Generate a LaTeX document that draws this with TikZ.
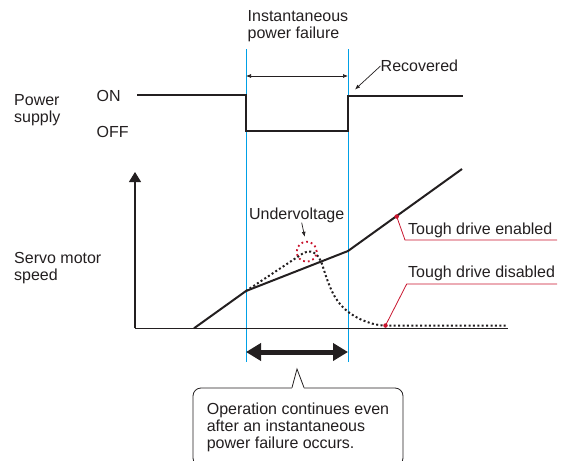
\documentclass[tikz,border=0pt]{standalone}
\usepackage{fontspec}
\setmainfont{Liberation Sans}
\usepackage{xcolor}
\usetikzlibrary{arrows.meta, positioning, calc}
\definecolor{ink}{RGB}{35,31,32}
\definecolor{cyanline}{RGB}{0,160,230}
\definecolor{leadred}{RGB}{200,20,45}
\tikzset{
  lbl/.style={
    font=\fontsize{16}{17}\selectfont, text=ink,
    inner sep=0pt, align=left
  },
  sigline/.style={line width=1.8pt, draw=ink},
  speedline/.style={line width=2pt, draw=ink},
  dropline/.style={line width=2pt, draw=ink, dash pattern=on 2pt off 2.4pt},
  axisline/.style={line width=1.2pt, draw=ink},
  markline/.style={line width=1pt, draw=cyanline},
  thinarrow/.style={-{Latex[length=5pt,width=4pt]}, line width=0.7pt, draw=ink},
  leadline/.style={line width=0.8pt, draw=leadred},
  leaddot/.style={circle, fill=leadred, inner sep=0pt, minimum size=4.5pt},
  spanarrow/.style={
    {Triangle[length=15pt,width=17pt]}-{Triangle[length=15pt,width=17pt]},
    line width=5pt, draw=ink
  },
  notebox/.style={
    lbl, draw=ink, line width=0.8pt, rounded corners=8pt, fill=white,
    minimum width=210pt, minimum height=78pt
  },
}

\begin{document}
\begin{tikzpicture}[x=1pt, y=-1pt]
  \useasboundingbox (0,0) rectangle (563,461);
  \clip (0,0) rectangle (563,461);

  % Failure window
  \coordinate (b1top) at (246,49);
  \coordinate (b1bot) at (246,362);
  \coordinate (b2top) at (348,49);
  \coordinate (b2bot) at (348,362);
  \draw[markline] (b1top) -- (b1bot);
  \draw[markline] (b2top) -- (b2bot);
  \node[lbl, anchor=west] (ipf) at (247.5,26) {Instantaneous\\power failure};
  \coordinate (w1) at (246,76);
  \coordinate (w2) at (348,76);
  \draw[thinarrow, {Latex[length=5pt,width=4pt]}-{Latex[length=5pt,width=4pt]}] (w1) -- (w2);

  % Power supply
  \node[lbl, anchor=west] (pwr) at (14,110.5) {Power\\supply};
  \node[lbl, anchor=west] (on) at (96.5,96) {ON};
  \node[lbl, anchor=west] (off) at (96.5,131.7) {OFF};
  \draw[sigline] (137,95) -- (246,95) -- (246,131) -- (348,131)
    -- (348,96) -- (463,96);
  \node[lbl, anchor=west] (rec) at (380.5,66) {Recovered};
  \coordinate (recpt) at (355,89.5);
  \draw[thinarrow] (rec.west) -- (recpt);

  % Servo motor speed
  \node[lbl, anchor=west] (spd) at (14,267.6) {Servo motor\\speed};
  \coordinate (origin) at (135,328.3);
  \coordinate (ytop) at (135,172);
  \coordinate (xend) at (508,328.3);
  \draw[axisline, -{Triangle[length=10pt,width=12pt]}] (origin) -- (ytop);
  \draw[axisline] (origin) -- (xend);
  \draw[speedline] (194,328.3) -- (246,291) -- (348,251) -- (462,169);
  \draw[dropline] (246,291) -- (302,254)
    .. controls (310,249) and (317,251) .. (322,264)
    .. controls (331,292) and (336,308) .. (362,320)
    .. controls (372,324) and (378,325.5) .. (386,325.5) -- (508,325.5);

  % Undervoltage
  \node[circle, draw=leadred, line width=1.8pt, dash pattern=on 1.8pt off 3pt,
    minimum size=20pt, inner sep=0pt] (uvring) at (306.7,251.7) {};
  \node[lbl] (uv) at (296.7,215) {Undervoltage};
  \draw[thinarrow] ($(uv.south)+(5,0)$) -- ($(uvring.north)+(-2,-4)$);

  % Tough drive leads
  \node[leaddot] (dot1) at (396.7,216.5) {};
  \node[leaddot] (dot2) at (385.5,325.5) {};
  \node[lbl, anchor=west] (tdon) at (408,230.4) {Tough drive enabled};
  \node[lbl, anchor=west] (tdoff) at (408,273.8) {Tough drive disabled};
  \draw[leadline] (dot1.center) -- (405,240) -- (557,240);
  \draw[leadline] (dot2.center) -- (406.7,284) -- (557,284);

  % Continued operation
  \coordinate (s1) at (246,352);
  \coordinate (s2) at (348,352);
  \draw[spanarrow] (s1) -- (s2);
  \node[notebox] (note) at (298,427) {Operation continues even\\after an instantaneous\\power failure occurs.};
  \coordinate (tip) at (297,369);
  \fill[white] ($(note.north)+(-6,1.5)$) -- (tip) -- ($(note.north)+(6,1.5)$) -- cycle;
  \draw[ink, line width=0.8pt] ($(note.north)+(-6,0)$) -- (tip) -- ($(note.north)+(6,0)$);
\end{tikzpicture}
\end{document}
